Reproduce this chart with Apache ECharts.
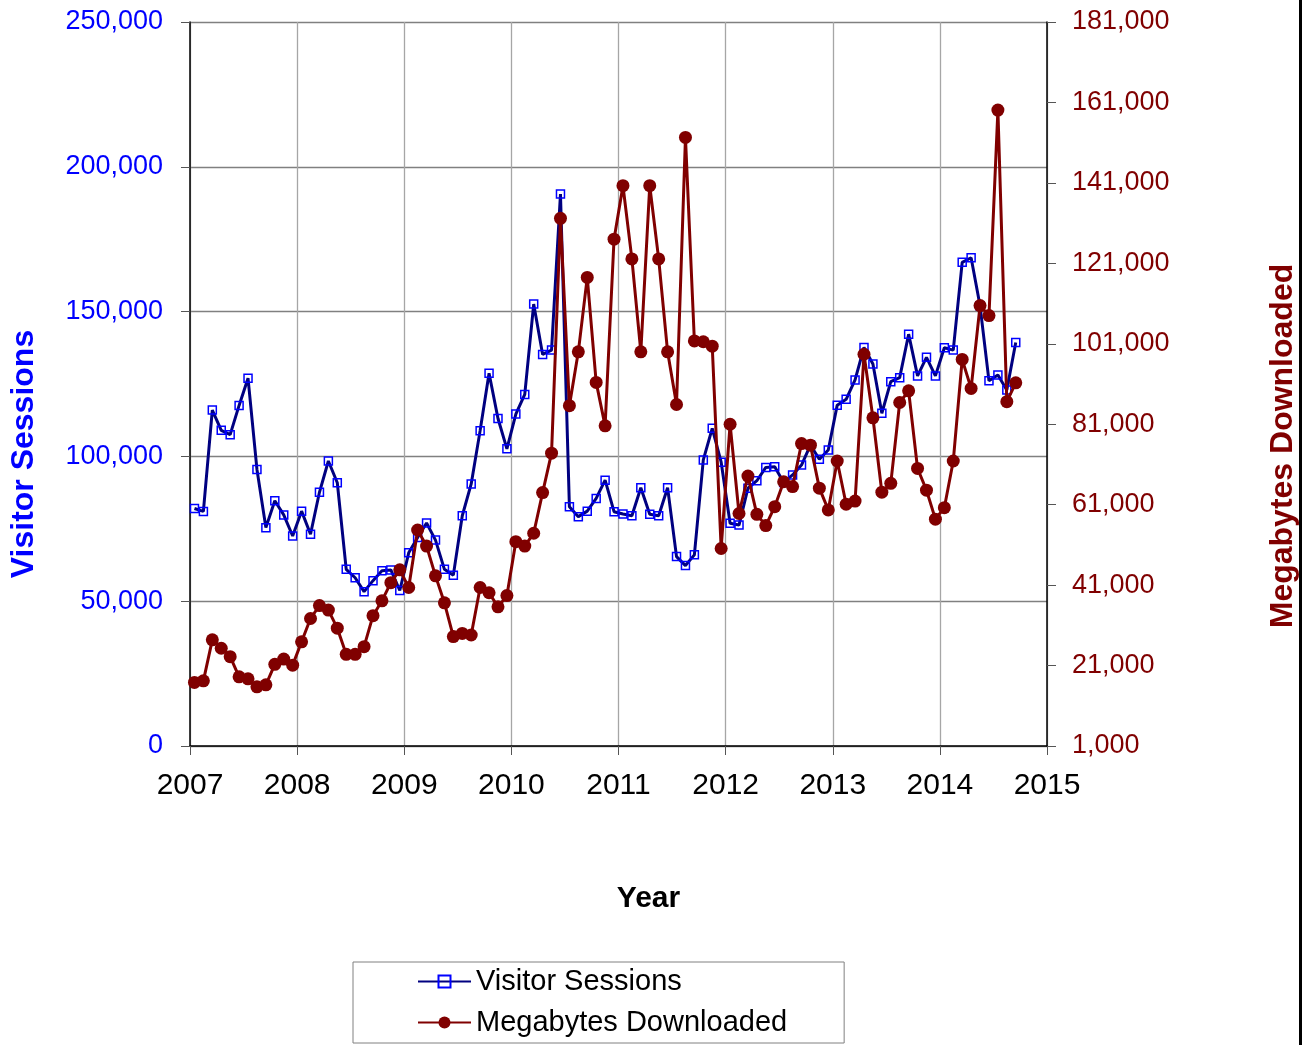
<!DOCTYPE html>
<html>
<head>
<meta charset="utf-8">
<script src="https://cdn.jsdelivr.net/npm/echarts@6/dist/echarts.min.js"></script>
<style>
  html, body { margin: 0; padding: 0; background: #fff; }
  #chart { width: 1307px; height: 1045px; }
</style>
</head>
<body>
<div id="chart"></div>
<script>
// Months (mid-month observations)
const months = [
  '2007-01','2007-02','2007-03','2007-04','2007-05','2007-06','2007-07','2007-08','2007-09','2007-10','2007-11','2007-12',
  '2008-01','2008-02','2008-03','2008-04','2008-05','2008-06','2008-07','2008-08','2008-09','2008-10','2008-11','2008-12',
  '2009-01','2009-02','2009-03','2009-04','2009-05','2009-06','2009-07','2009-08','2009-09','2009-10','2009-11','2009-12',
  '2010-01','2010-02','2010-03','2010-04','2010-05','2010-06','2010-07','2010-08','2010-09','2010-10','2010-11','2010-12',
  '2011-01','2011-02','2011-03','2011-04','2011-05','2011-06','2011-07','2011-08','2011-09','2011-10','2011-11','2011-12',
  '2012-01','2012-02','2012-03','2012-04','2012-05','2012-06','2012-07','2012-08','2012-09','2012-10','2012-11','2012-12',
  '2013-01','2013-02','2013-03','2013-04','2013-05','2013-06','2013-07','2013-08','2013-09','2013-10','2013-11','2013-12',
  '2014-01','2014-02','2014-03','2014-04','2014-05','2014-06','2014-07','2014-08','2014-09'
];

const visitorSessions = [
  82000, 81000, 116000, 109000, 107500, 117600, 127000, 95500, 75400, 84700, 79800, 72500,
  81100, 73100, 87600, 98400, 90900, 61000, 58100, 53300, 57100, 60500, 60800, 53700,
  66700, 72000, 77000, 71100, 61000, 59000, 79500, 90500, 108900, 128700, 113100, 102600,
  114600, 121400, 152600, 135200, 136700, 190600, 82600, 79200, 81100, 85500, 91800, 80900,
  80100, 79500, 89200, 80000, 79500, 89200, 65400, 62300, 66000, 98800, 109700, 98000,
  76900, 76300, 89000, 91600, 96200, 96400, 91000, 93600, 97000, 103900, 99000, 102200,
  117700, 119700, 126400, 137600, 131900, 114900, 125800, 127200, 142200, 127800, 134200, 127800,
  137500, 136700, 167000, 168600, 152000, 126100, 128100, 122900, 139300
];

const megabytesDownloaded = [
  16800, 17200, 27400, 25300, 23200, 18200, 17700, 15700, 16200, 21300, 22600, 21100,
  26900, 32700, 35900, 34800, 30300, 23800, 23800, 25700, 33400, 37100, 41600, 44800,
  40400, 54700, 50700, 43300, 36600, 28200, 29000, 28600, 40400, 39100, 35600, 38400,
  51800, 50700, 53900, 64000, 73800, 132200, 85600, 99000, 117500, 91400, 80600, 127000,
  140300, 122100, 99000, 140300, 122100, 99000, 85900, 152300, 101700, 101500, 100400, 50100,
  81000, 58800, 68100, 58600, 55800, 60500, 66700, 65500, 76200, 75800, 65100, 59700,
  71850, 61100, 61900, 98400, 82600, 64100, 66300, 86400, 89300, 70000, 64600, 57400,
  60250, 71850, 97100, 89900, 110500, 108000, 159100, 86600, 91300
];

const yearTicks = [2007, 2008, 2009, 2010, 2011, 2012, 2013, 2014, 2015];
const leftTicks = [0, 50000, 100000, 150000, 200000, 250000];
const rightTicks = [1000, 21000, 41000, 61000, 81000, 101000, 121000, 141000, 161000, 181000];

// decimal-year position of each month (mid-month)
const xPos = months.map(m => {
  const parts = m.split('-').map(Number);
  return parts[0] + (parts[1] - 0.5) / 12;
});
const sessionsData = xPos.map((x, i) => [x, visitorSessions[i]]);
const megabytesData = xPos.map((x, i) => [x, megabytesDownloaded[i]]);

const FONT = '"Liberation Sans", Arial, sans-serif';
const fmt = v => String(Math.round(v)).replace(/\B(?=(\d{3})+(?!\d))/g, ',');

const chart = echarts.init(document.getElementById('chart'), null, { renderer: 'canvas' });
chart.setOption({
  animation: false,
  backgroundColor: '#ffffff',
  textStyle: { fontFamily: FONT },
  grid: { left: 190, right: 259, top: 22, bottom: 299, containLabel: false },
  xAxis: {
    type: 'value',
    min: yearTicks[0],
    max: yearTicks[yearTicks.length - 1],
    interval: 1,
    name: 'Year',
    nameLocation: 'middle',
    nameGap: 138,
    nameTextStyle: { color: '#000', fontSize: 30, fontWeight: 'bold', fontFamily: FONT, padding: [0, 0, 0, 60] },
    axisLine: { show: true, onZero: false, lineStyle: { color: '#000', width: 1.5 } },
    axisTick: { show: true, length: 9, lineStyle: { color: '#555', width: 1 } },
    axisLabel: { color: '#000', fontSize: 30, margin: 25, fontFamily: FONT, formatter: v => String(v) },
    splitLine: { show: true, lineStyle: { color: '#a6a6a6', width: 1.3 } }
  },
  yAxis: [
    {
      type: 'value',
      position: 'left',
      min: leftTicks[0],
      max: leftTicks[leftTicks.length - 1],
      interval: 50000,
      name: 'Visitor Sessions',
      nameLocation: 'middle',
      nameGap: 150,
      nameTextStyle: { color: '#0000FF', fontSize: 32, fontWeight: 'bold', fontFamily: FONT, padding: [0, 140, 0, 0] },
      axisLine: { show: true, lineStyle: { color: '#000', width: 1.5 } },
      axisTick: { show: true, length: 9, lineStyle: { color: '#555', width: 1 } },
      axisLabel: { color: '#0000FF', fontSize: 27, margin: 27, fontFamily: FONT, formatter: fmt },
      splitLine: { show: true, lineStyle: { color: '#808080', width: 1.4 } }
    },
    {
      type: 'value',
      position: 'right',
      min: rightTicks[0],
      max: rightTicks[rightTicks.length - 1],
      name: 'Megabytes Downloaded',
      nameLocation: 'middle',
      nameGap: 220,
      nameTextStyle: { color: '#800000', fontSize: 32, fontWeight: 'bold', fontFamily: FONT, padding: [0, 124, 0, 0] },
      axisLine: { show: true, lineStyle: { color: '#000', width: 1.5 } },
      axisTick: { show: true, length: 9, customValues: rightTicks, lineStyle: { color: '#555', width: 1 } },
      axisLabel: { color: '#800000', fontSize: 27, margin: 25, fontFamily: FONT, customValues: rightTicks, formatter: fmt },
      splitLine: { show: false }
    }
  ],
  legend: {
    orient: 'vertical',
    left: 353,
    top: 962,
    selectedMode: false,
    itemWidth: 53,
    itemHeight: 15,
    itemGap: 12,
    padding: [5, 57, 6, 64],
    borderColor: '#808080',
    borderWidth: 1,
    textStyle: { color: '#000', fontSize: 29, fontFamily: FONT },
    data: ['Visitor Sessions', 'Megabytes Downloaded']
  },
  graphic: [
    { type: 'rect', left: 1299, top: 0, shape: { width: 3, height: 1045 }, style: { fill: '#000' }, silent: true }
  ],
  series: [
    {
      name: 'Visitor Sessions',
      type: 'line',
      yAxisIndex: 0,
      data: sessionsData,
      symbol: 'rect',
      symbolSize: 8,
      showAllSymbol: true,
      lineStyle: { color: '#000080', width: 3 },
      itemStyle: { color: 'rgba(255,255,255,0)', borderColor: '#0000FF', borderWidth: 1.5 },
      z: 2
    },
    {
      name: 'Megabytes Downloaded',
      type: 'line',
      yAxisIndex: 1,
      data: megabytesData,
      symbol: 'circle',
      symbolSize: 13,
      showAllSymbol: true,
      lineStyle: { color: '#800000', width: 3 },
      itemStyle: { color: '#800000', borderWidth: 0 },
      z: 3
    }
  ]
});
</script>
</body>
</html>
